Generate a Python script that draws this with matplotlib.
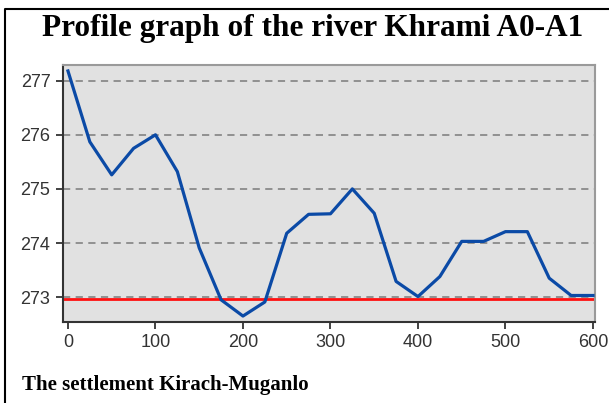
import matplotlib
matplotlib.use("Agg")
import matplotlib.pyplot as plt
from matplotlib.lines import Line2D

# distance along the river, m
dist = [0, 25, 50, 75, 100, 125, 150, 175, 200, 225, 250, 275, 300, 325,
        350, 375, 400, 425, 450, 475, 500, 525, 550, 575, 600]
# elevation, m
elev = [277.18, 275.87, 275.26, 275.75, 276.0, 275.32, 273.91, 272.95, 272.65,
        272.91, 274.18, 274.53, 274.54, 275.0, 274.55, 273.29, 273.01, 273.38,
        274.03, 274.03, 274.21, 274.21, 273.35, 273.03, 273.03]
level = 272.97

xticks = [0, 100, 200, 300, 400, 500, 600]
yticks = [273, 274, 275, 276, 277]

fig = plt.figure(figsize=(6.09, 4.03), dpi=100)
ax = fig.add_axes([0.1034, 0.201, 0.8736, 0.6377])
ax.set_facecolor("#e1e1e1")

ax.grid(axis="y", color="#8a8a8a", linestyle=(0, (4, 3)), linewidth=1.3)
ax.set_axisbelow(True)

ax.plot(dist, elev, color="#0b4aa6", linewidth=2.3, zorder=3)
ax.axhline(level, color="#ff1010", linewidth=2.0, zorder=2)

ax.set_xlim(-5.7, 602.3)
ax.set_ylim(272.54, 277.29)
ax.set_xticks(xticks)
ax.set_yticks(yticks)
ax.tick_params(direction="out", length=5, width=1.3, color="#333333",
               labelsize=13, labelcolor="#333333", pad=4)
for lbl in ax.get_xticklabels() + ax.get_yticklabels():
    lbl.set_family("Liberation Sans")
for s in ax.spines.values():
    s.set_color("#9a9a9a")
    s.set_linewidth(1.5)
ax.spines["left"].set_color("#333333")
ax.spines["bottom"].set_color("#333333")

fig.text(0.513, 0.93, "Profile graph of the river Khrami A0-A1", ha="center",
         va="center", family="Liberation Serif", weight="bold", fontsize=22.5)
fig.text(0.036, 0.045, "The settlement Kirach-Muganlo", ha="left",
         va="center", family="Liberation Serif", weight="bold", fontsize=15)

# frame of the figure (top and left edges)
fig.add_artist(Line2D([5 / 609, 5 / 609, 1], [0, 1 - 9 / 403, 1 - 9 / 403],
                      transform=fig.transFigure, color="black", linewidth=1.5))

fig.savefig("out.png", dpi=100)
